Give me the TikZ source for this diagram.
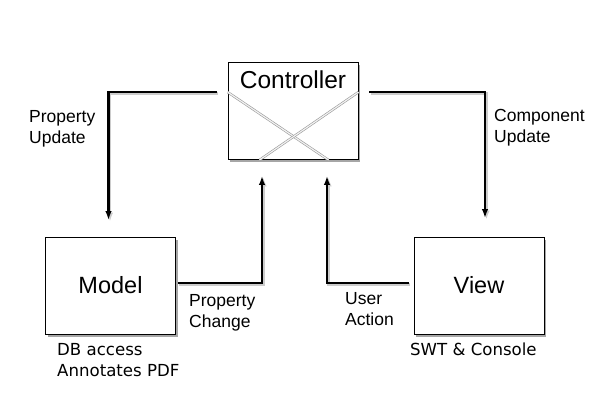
\documentclass[tikz,border=0pt]{standalone}
\usepackage{fontspec}
\setmainfont{Liberation Sans}
\newfontfamily\notefont{DejaVu Sans}
\usetikzlibrary{arrows.meta,shadows,positioning}

\tikzset{
  box/.style={rectangle, draw, line width=0.9pt, fill=white, minimum width=130pt, minimum height=97pt,
    font=\fontsize{23.5}{27}\selectfont,
    drop shadow={shadow xshift=2pt, shadow yshift=-2pt, opacity=0.35, fill=black}},
  flow/.style={line width=2.6pt, -{Latex[length=9pt,width=6.5pt]},
    preaction={draw=black!20, line width=2.6pt, transform canvas={shift={(1.5pt,-1.5pt)}}}},
  lbl/.style={align=left, anchor=west, inner sep=0pt, font=\fontsize{17.5}{21}\selectfont},
  note/.style={align=left, anchor=north west, inner sep=0pt, font=\notefont\fontsize{16.6}{21}\selectfont},
  cross/.style={draw=black!40, double=black!5, double distance=1.2pt, line width=0.6pt}
}

\begin{document}
\begin{tikzpicture}[x=1pt, y=-1pt]
\useasboundingbox (0,0) rectangle (600,400);

\node[box] (ctrl) at (293, 111) {};
\draw[cross] ([yshift=-30pt]ctrl.north west) -- ([xshift=-30pt]ctrl.south east);
\draw[cross] ([yshift=-30pt]ctrl.north east) -- ([xshift=32pt]ctrl.south west);
\node[font=\fontsize{24.5}{28}\selectfont] (ctrltxt) at (293, 80) {Controller};

\node[box] (model) at (110.5, 286) {\raisebox{3pt}{Model}};
\node[box] (view) at (479, 286) {\raisebox{3pt}{View}};

% controller -> model / view
\draw[flow] ([xshift=-11pt,yshift=-30pt]ctrl.north west) -| ([xshift=-2pt,yshift=17pt]model.north);
\draw[flow] ([xshift=11pt,yshift=-30pt]ctrl.north east) -| ([xshift=6pt,yshift=19pt]view.north);

% model / view -> controller
\draw[flow] ([xshift=2pt,yshift=3pt]model.east) -| ([xshift=-31pt,yshift=-16pt]ctrl.south);
\draw[flow] ([xshift=-5pt,yshift=3pt]view.west) -| ([xshift=34pt,yshift=-16pt]ctrl.south);

\node[lbl] (pupdate) at (29, 129) {Property\\Update};
\node[lbl] (cupdate) at (494, 128) {Component\\Update};
\node[lbl] (pchange) at (189, 313) {Property\\Change};
\node[lbl] (uaction) at (345, 309) {User\\Action};

\node[note] (modelnote) at (57, 343) {DB access\\Annotates PDF};
\node[note] (viewnote) at (410, 343) {SWT \& Console};

\end{tikzpicture}
\end{document}
